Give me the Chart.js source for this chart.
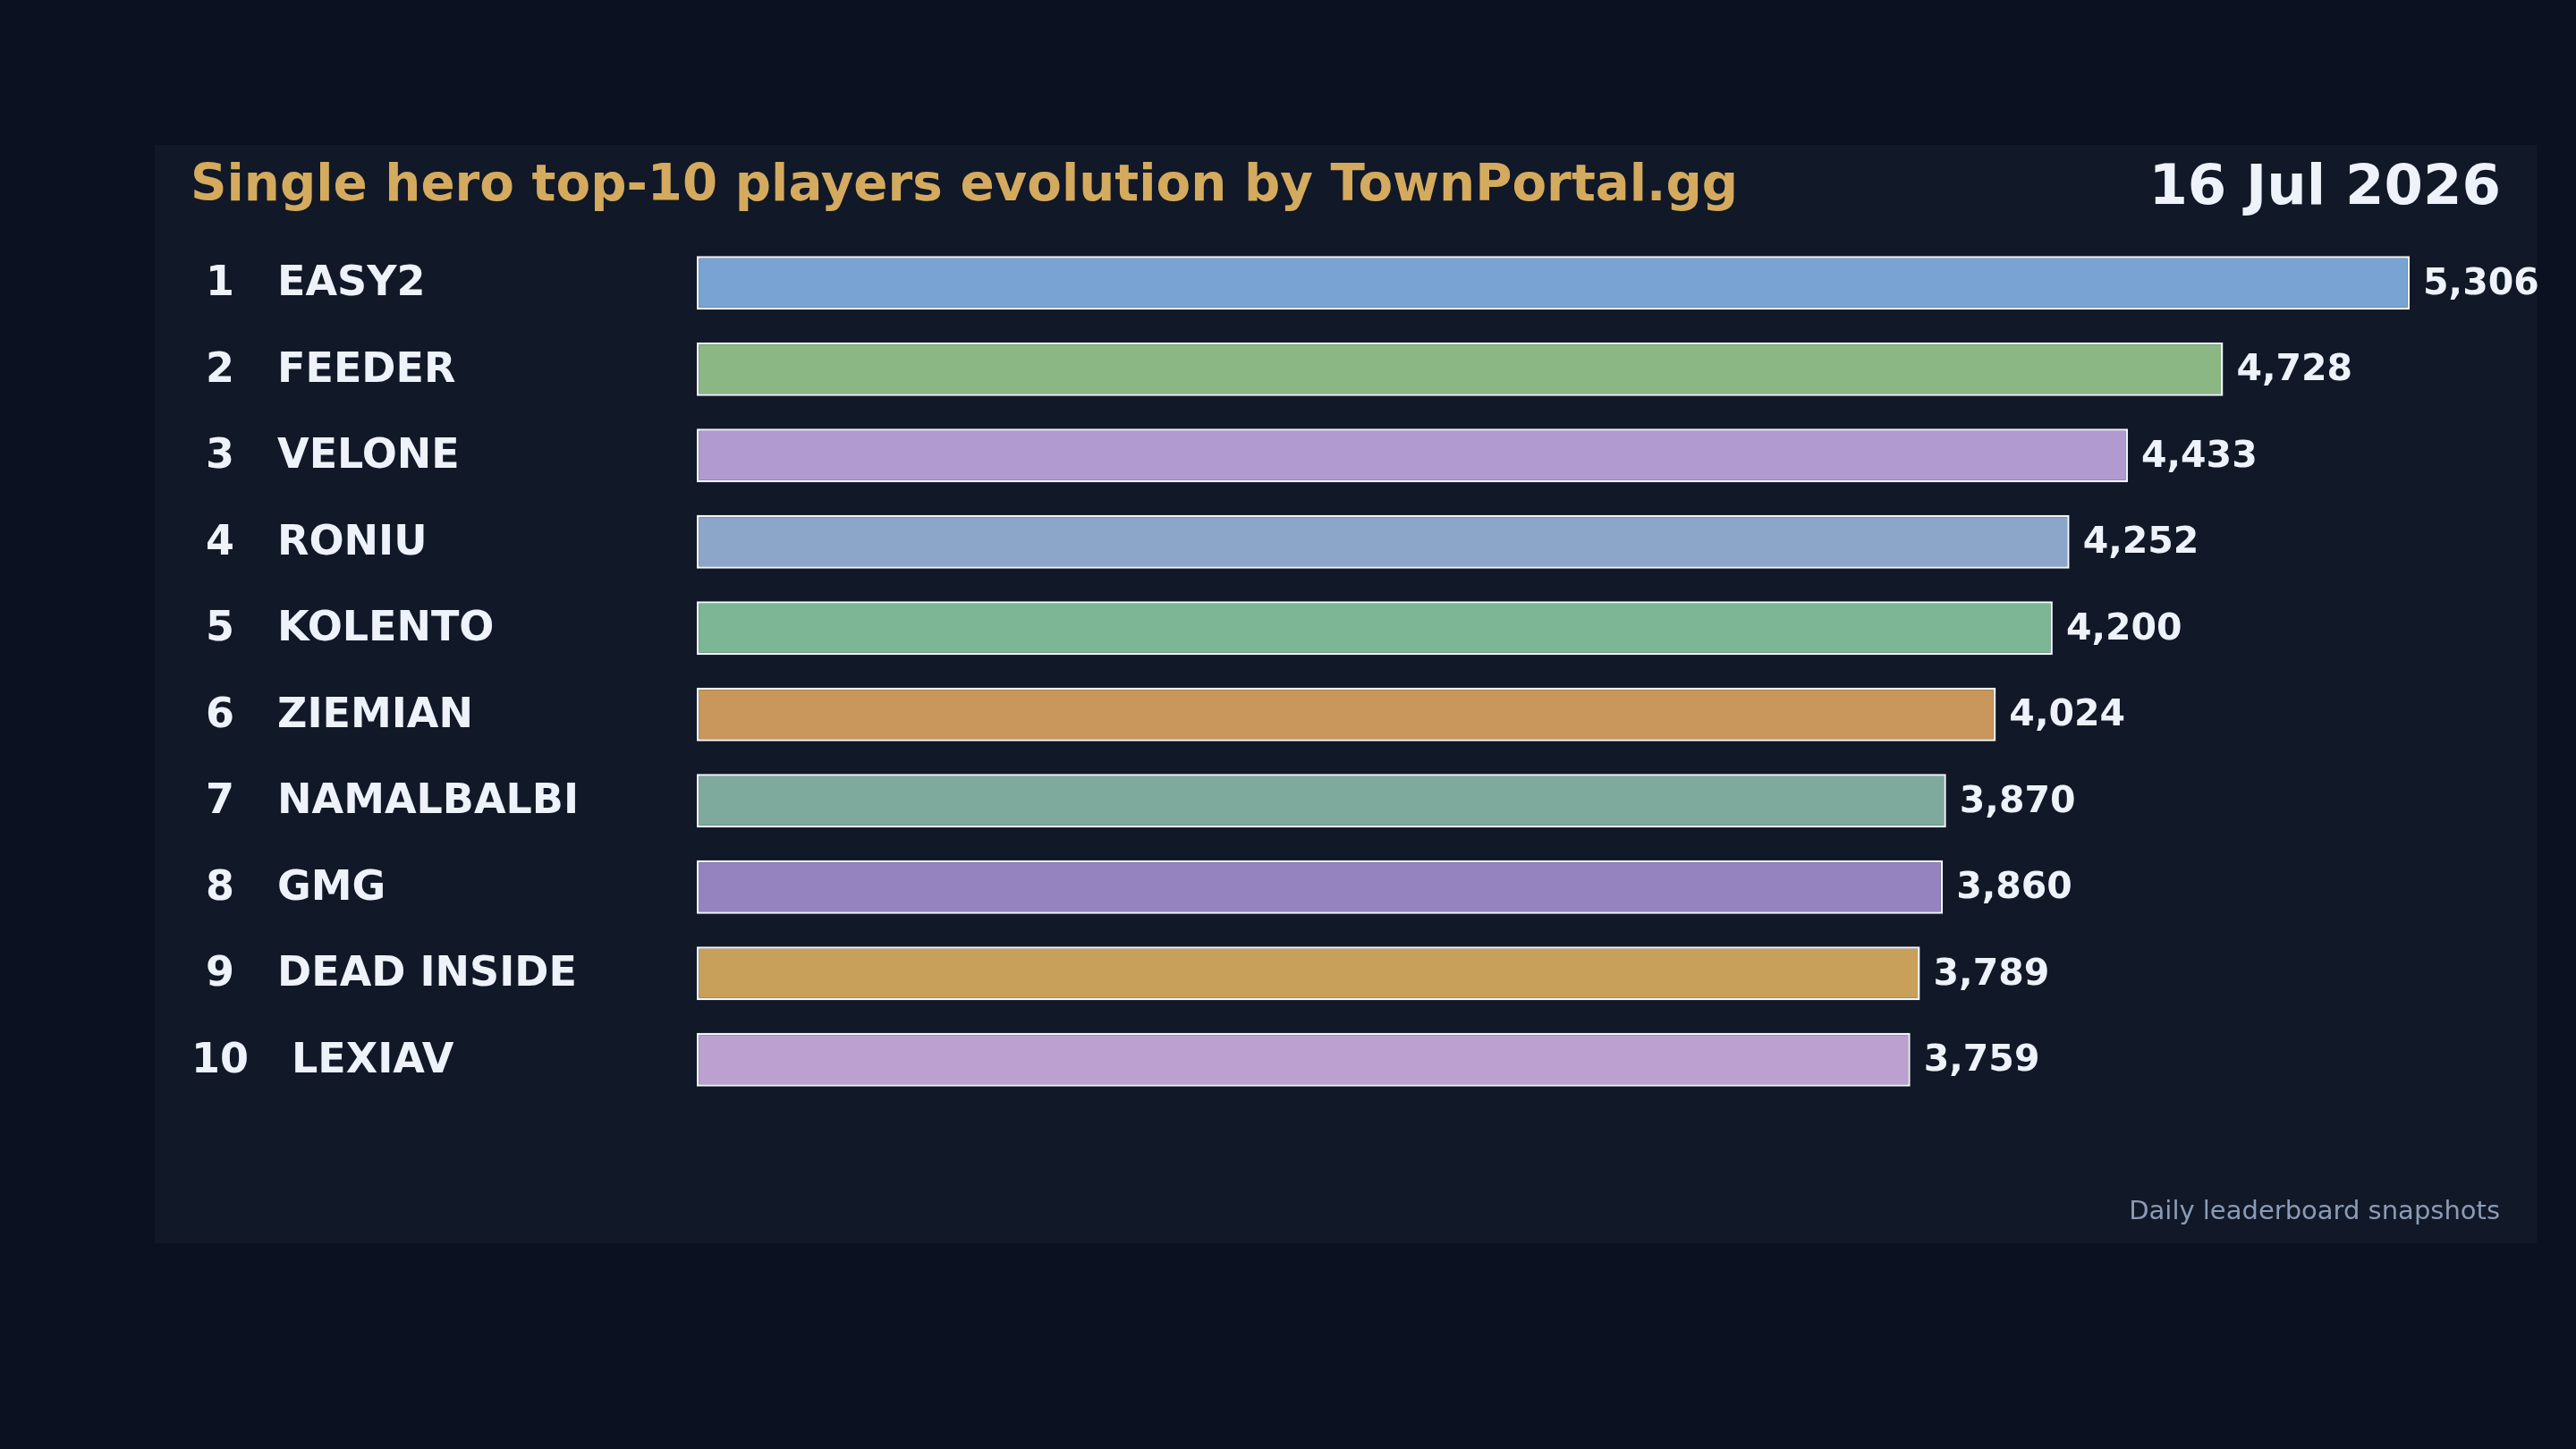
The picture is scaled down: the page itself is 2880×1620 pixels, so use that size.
<!DOCTYPE html>
<html>
<head>
<meta charset="utf-8">
<script src="https://cdn.jsdelivr.net/npm/chart.js@4/dist/chart.umd.min.js"></script>
<style>
  html, body { margin: 0; padding: 0; background: #0b1120; }
  #wrap { width: 2880px; height: 1620px; position: relative; }
  canvas { display: block; }
</style>
</head>
<body>
<div id="wrap"><canvas id="c" width="2880" height="1620"></canvas></div>
<script>
const titleText = "Single hero top-10 players evolution by TownPortal.gg";
const dateText = "16 Jul 2026";
const footerText = "Daily leaderboard snapshots";
const ranks = [1, 2, 3, 4, 5, 6, 7, 8, 9, 10];
const players = ["EASY2", "FEEDER", "VELONE", "RONIU", "KOLENTO", "ZIEMIAN", "NAMALBALBI", "GMG", "DEAD INSIDE", "LEXIAV"];
const ratings = [5306, 4728, 4433, 4252, 4200, 4024, 3870, 3860, 3789, 3759];
const barColors = ["#78a3d2", "#8bb784", "#b09ad0", "#8ba6c9", "#7cb694", "#c9965c", "#7daa9d", "#9583c0", "#c8a05a", "#bca0cf"];

const FONT = "'DejaVu Sans', sans-serif";

const decor = {
  id: 'decor',
  beforeDraw(chart) {
    const ctx = chart.ctx;
    ctx.save();
    ctx.fillStyle = '#0b1120';
    ctx.fillRect(0, 0, chart.width, chart.height);
    ctx.fillStyle = '#111827';
    ctx.fillRect(173, 162, 2836 - 173, 1390 - 162);
    // title
    ctx.fillStyle = '#d4aa5e';
    ctx.font = `bold 56.3px ${FONT}`;
    ctx.textAlign = 'left';
    ctx.textBaseline = 'alphabetic';
    ctx.fillText(titleText, 213, 224);
    // date
    ctx.fillStyle = '#eef2fa';
    ctx.font = `bold 62.5px ${FONT}`;
    ctx.textAlign = 'right';
    ctx.fillText(dateText, 2796, 228);
    // footer
    ctx.fillStyle = '#8b9bb4';
    ctx.font = `29px ${FONT}`;
    ctx.fillText(footerText, 2795, 1363);
    ctx.restore();
  },
  afterDatasetsDraw(chart) {
    const ctx = chart.ctx;
    const xs = chart.scales.x, ys = chart.scales.y;
    ctx.save();
    ctx.fillStyle = '#eef2fa';
    ctx.textBaseline = 'middle';
    players.forEach((name, i) => {
      const y = ys.getPixelForValue(i) + 2;
      ctx.font = `bold 46px ${FONT}`;
      ctx.textAlign = 'left';
      ctx.fillText(String(ranks[i]).padStart(2, ' ') + '   ' + name, 214, y);
      ctx.font = `bold 41px ${FONT}`;
      ctx.fillText(ratings[i].toLocaleString('en-US'), xs.getPixelForValue(ratings[i]) + 15, y);
    });
    ctx.restore();
  }
};

new Chart(document.getElementById('c'), {
  type: 'bar',
  data: {
    labels: players,
    datasets: [{
      data: ratings,
      backgroundColor: barColors,
      borderColor: '#f2f5fb',
      borderWidth: 2.5,
      borderSkipped: false,
      categoryPercentage: 1.0,
      barPercentage: 0.62,
      clip: false
    }]
  },
  options: {
    indexAxis: 'y',
    responsive: false,
    animation: false,
    devicePixelRatio: 1,
    layout: { padding: { left: 779, right: 152, top: 268, bottom: 387 } },
    plugins: { legend: { display: false }, tooltip: { enabled: false }, title: { display: false } },
    scales: {
      x: { display: false, min: 0, max: 5400, grid: { display: false } },
      y: { display: false, grid: { display: false } }
    }
  },
  plugins: [decor]
});
</script>
</body>
</html>
